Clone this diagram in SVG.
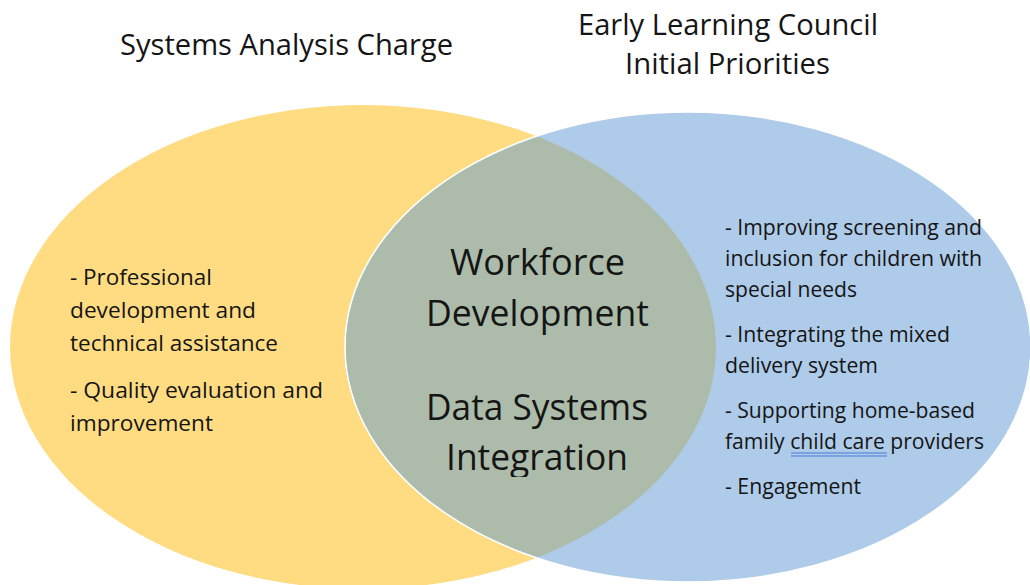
<svg xmlns="http://www.w3.org/2000/svg" width="1030" height="585" viewBox="0 0 1030 585">
<style>
text{font-family:"Open Sans","Liberation Sans",sans-serif;fill:#151515}
.title{font-size:29px}
.big{font-size:36px;text-anchor:start}
.item{font-size:21px}
</style>
<defs>
<clipPath id="leftClip"><ellipse cx="363" cy="347" rx="353" ry="242"/></clipPath>
<clipPath id="bottomClip"><rect x="0" y="0" width="1030" height="477"/></clipPath>
</defs>
<rect width="1030" height="585" fill="#ffffff"/>
<g id="left-set">
<ellipse cx="363" cy="347" rx="353" ry="242" fill="#FFDC82"/>
</g>
<g id="right-set">
<ellipse cx="688" cy="347" rx="343" ry="235" fill="#AECBE9" stroke="#ffffff" stroke-width="1.5"/>
</g>
<g id="overlap">
<ellipse cx="688" cy="347" rx="342" ry="234" fill="#ADBCAA" clip-path="url(#leftClip)"/>
</g>
<g id="connectors"></g>
<g id="title-left">
<text class="title" x="120" y="55" textLength="333" lengthAdjust="spacingAndGlyphs">Systems Analysis Charge</text>
</g>
<g id="title-right">
<text class="title" x="578" y="35" textLength="300" lengthAdjust="spacingAndGlyphs">Early Learning Council</text>
<text class="title" x="625" y="74" textLength="205" lengthAdjust="spacingAndGlyphs">Initial Priorities</text>
</g>
<g id="left-items">
<text class="item" x="70" y="285" textLength="142" lengthAdjust="spacingAndGlyphs">- Professional</text>
<text class="item" x="70" y="318" textLength="186" lengthAdjust="spacingAndGlyphs">development and</text>
<text class="item" x="70" y="351" textLength="208" lengthAdjust="spacingAndGlyphs">technical assistance</text>
<text class="item" x="70" y="398" textLength="253" lengthAdjust="spacingAndGlyphs">- Quality evaluation and</text>
<text class="item" x="70" y="431" textLength="143" lengthAdjust="spacingAndGlyphs">improvement</text>
</g>
<g id="center-items">
<text class="big" x="450" y="275" textLength="175" lengthAdjust="spacingAndGlyphs">Workforce</text>
<text class="big" x="426" y="326" textLength="223" lengthAdjust="spacingAndGlyphs">Development</text>
<text class="big" x="426" y="420" textLength="222" lengthAdjust="spacingAndGlyphs">Data Systems</text>
<g clip-path="url(#bottomClip)">
<text class="big" x="446" y="470" textLength="182" lengthAdjust="spacingAndGlyphs">Integration</text>
</g>
</g>
<g id="right-items">
<text class="item" x="725" y="235" textLength="257" lengthAdjust="spacingAndGlyphs">- Improving screening and</text>
<text class="item" x="725" y="266" textLength="257" lengthAdjust="spacingAndGlyphs">inclusion for children with</text>
<text class="item" x="725" y="297" textLength="132" lengthAdjust="spacingAndGlyphs">special needs</text>
<text class="item" x="725" y="342" textLength="225" lengthAdjust="spacingAndGlyphs">- Integrating the mixed</text>
<text class="item" x="725" y="373" textLength="153" lengthAdjust="spacingAndGlyphs">delivery system</text>
<text class="item" x="725" y="418" textLength="250" lengthAdjust="spacingAndGlyphs">- Supporting home-based</text>
<text class="item" x="725" y="449" textLength="259" lengthAdjust="spacingAndGlyphs">family child care providers</text>
<line x1="791" y1="453" x2="887" y2="453" stroke="#4A78D8" stroke-width="1.2"/>
<line x1="791" y1="456" x2="887" y2="456" stroke="#4A78D8" stroke-width="1.2"/>
<text class="item" x="725" y="494" textLength="136" lengthAdjust="spacingAndGlyphs">- Engagement</text>
</g>
</svg>
